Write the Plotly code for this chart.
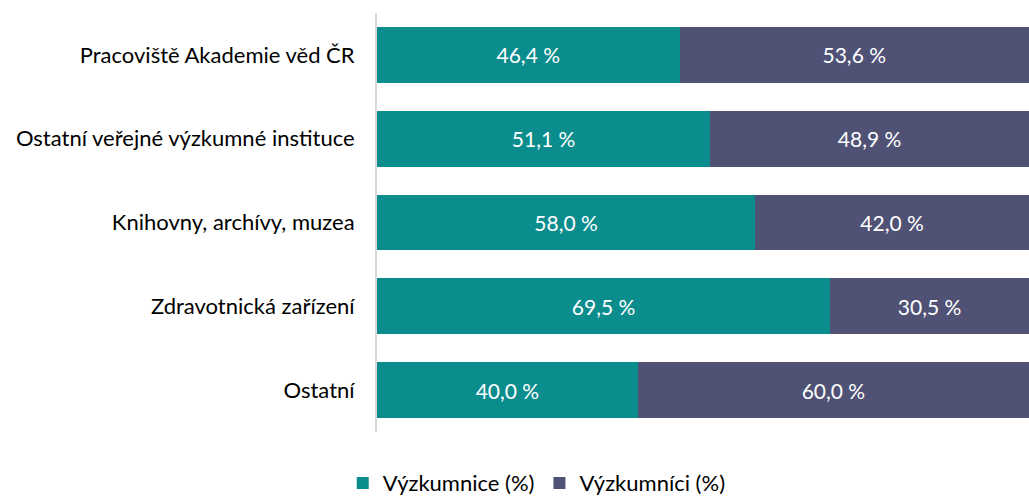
import plotly.graph_objects as go

categories = ["Pracoviště Akademie věd ČR", "Ostatní veřejné výzkumné instituce",
              "Knihovny, archívy, muzea", "Zdravotnická zařízení", "Ostatní"]
women = [46.4, 51.1, 58.0, 69.5, 40.0]
men = [53.6, 48.9, 42.0, 30.5, 60.0]
series_names = ["Výzkumnice (%)", "Výzkumníci (%)"]
colors = ["#0B8C8D", "#4F5275"]

def fmt(v):
    return f"{v:.1f}".replace(".", ",") + " %"

fig = go.Figure()
for name, vals, col in zip(series_names, [women, men], colors):
    fig.add_trace(go.Bar(
        y=categories, x=vals, name=name, orientation="h",
        marker=dict(color=col, line=dict(width=0)),
        text=[fmt(v) for v in vals], textposition="inside",
        insidetextanchor="middle",
        textfont=dict(color="white", size=21, family="Lato"),
    ))

fig.update_layout(
    barmode="stack", bargap=0.333,
    width=1029, height=496,
    margin=dict(l=377, r=0, t=13, b=64, autoexpand=False),
    plot_bgcolor="white", paper_bgcolor="white",
    font=dict(family="Lato", size=22, color="#000000"),
    showlegend=True,
    legend=dict(orientation="h", x=0.245, xanchor="center", yref="container",
                y=0.026, yanchor="middle",
                font=dict(size=22), traceorder="normal", itemwidth=30),
    uniformtext=dict(mode="show", minsize=10),
)
fig.update_xaxes(range=[0, 100], visible=False)
fig.update_yaxes(autorange="reversed", showline=True, linecolor="#D9D9D9", linewidth=2,
                 ticks="", ticklabelstandoff=16, showgrid=False)

fig.write_html("out.html", config={"displayModeBar": False},
               post_script="document.body.style.margin='0';document.body.style.overflow='hidden';")
